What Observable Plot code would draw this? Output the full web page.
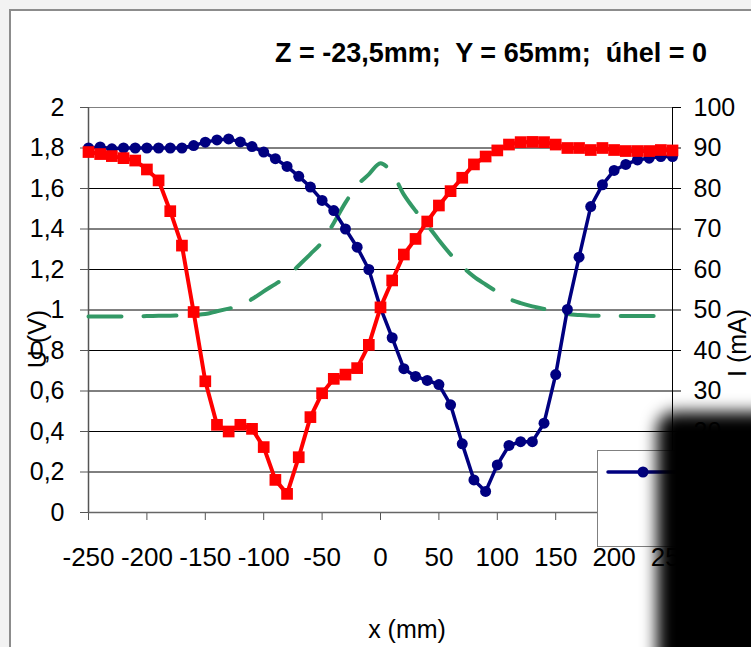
<!DOCTYPE html>
<html><head><meta charset="utf-8">
<script src="https://cdn.jsdelivr.net/npm/d3@7"></script>
<script src="https://cdn.jsdelivr.net/npm/@observablehq/plot@0.6"></script>
<style>
html,body{margin:0;padding:0;background:#f2f2f2;}
#wrap{position:relative;width:751px;height:647px;overflow:hidden;}
#blot{position:absolute;left:657px;top:412px;width:220px;height:320px;background:#000;filter:blur(8px);border-radius:18px;}
</style></head><body><div id="wrap"></div>
<script>
const titleText = "Z = -23,5mm;  Y = 65mm;  úhel = 0";
const xLabel = "x (mm)";
const yLeftLabel = "U (V)";
const yRightLabel = "I (mA)";
const xTicks = [-250, -200, -150, -100, -50, 0, 50, 100, 150, 200, 250];
const yTicks = [0, 0.2, 0.4, 0.6, 0.8, 1, 1.2, 1.4, 1.6, 1.8, 2];
const xValues = [-250,-240,-230,-220,-210,-200,-190,-180,-170,-160,-150,-140,-130,-120,-110,-100,-90,-80,-70,-60,-50,-40,-30,-20,-10,0,10,20,30,40,50,60,70,80,90,100,110,120,130,140,150,160,170,180,190,200,210,220,230,240,250];
// U1 (V) – blue circles
const u1Values = [1.80,1.805,1.796,1.80,1.80,1.80,1.80,1.80,1.80,1.812,1.829,1.84,1.845,1.83,1.807,1.78,1.747,1.709,1.66,1.607,1.541,1.491,1.40,1.31,1.20,1.01,0.863,0.71,0.672,0.652,0.632,0.532,0.339,0.161,0.104,0.235,0.331,0.35,0.35,0.441,0.681,1.003,1.261,1.511,1.618,1.689,1.719,1.741,1.75,1.758,1.758];
// U2 (V) – red squares
const u2Values = [1.78,1.77,1.76,1.75,1.738,1.694,1.64,1.488,1.318,0.99,0.648,0.433,0.40,0.433,0.413,0.323,0.161,0.092,0.273,0.471,0.589,0.66,0.681,0.713,0.828,1.013,1.146,1.274,1.351,1.437,1.516,1.587,1.653,1.719,1.758,1.788,1.817,1.829,1.83,1.829,1.817,1.80,1.80,1.79,1.80,1.79,1.785,1.785,1.785,1.79,1.788];
// I (mA) – green dashed, right axis
const iValues = [48.4,48.4,48.4,48.4,48.45,48.5,48.55,48.6,48.7,48.8,49.0,49.7,50.35,51.0,52.7,54.6,56.4,58.25,61.0,63.8,66.8,71.5,76.5,80.75,83.5,86.25,83.75,78.5,74.5,71.0,67.25,63.75,60.75,58.25,56.3,54.45,52.75,51.7,50.9,50.25,49.5,49.0,48.75,48.6,48.55,48.5,48.5,48.5,48.5,48.5,48.5];

const iMax = 100, uMax = 2; // right axis 0..100 maps onto left 0..2
const rows = xValues.map((x, i) => ({x, u1: u1Values[i], u2: u2Values[i], iu: iValues[i] * uMax / iMax}));
const comma = d => String(d).replace(".", ",");

const plot = Plot.plot({
  width: 751, height: 647,
  marginLeft: 88, marginRight: 79, marginTop: 107, marginBottom: 135,
  style: {fontFamily: "'Liberation Sans', Arial, sans-serif", fontSize: "25px", background: "transparent", color: "#000", overflow: "visible"},
  x: {domain: [-250, 250]},
  y: {domain: [0, 2]},
  marks: [
    Plot.ruleY(yTicks.filter(d => d > 0), {stroke: "#000", strokeWidth: 1}),
    Plot.ruleY([2], {stroke: "#808080", strokeWidth: 1}),
    Plot.ruleX([250], {stroke: "#000", strokeWidth: 1}),
    Plot.axisY({anchor: "left", ticks: yTicks, tickSize: 8, tickPadding: 16, tickFormat: comma, label: null, fontSize: 25, stroke: "#555"}),
    Plot.axisY({anchor: "right", ticks: yTicks, tickSize: 8, tickPadding: 13, tickFormat: d => String(Math.round(d * iMax / uMax)), label: null, fontSize: 25}),
    Plot.axisX({ticks: xTicks, tickSize: 8, tickPadding: 27, tickFormat: d => String(d), label: null, fontSize: 26, stroke: "#555"}),
    Plot.ruleX([-250], {stroke: "#555", strokeWidth: 1.5}),
    Plot.ruleY([0], {stroke: "#666", strokeWidth: 1.5}),
    Plot.line(rows, {x: "x", y: "iu", stroke: "#339966", strokeWidth: 4, strokeDasharray: "33,22", strokeLinecap: "round", curve: "catmull-rom"}),
    Plot.line(rows, {x: "x", y: "u1", stroke: "#000080", strokeWidth: 3.5}),
    Plot.dot(rows, {x: "x", y: "u1", r: 5.5, fill: "#000080", stroke: "none"}),
    Plot.line(rows, {x: "x", y: "u2", stroke: "#ff0000", strokeWidth: 4}),
    Plot.dot(rows, {x: "x", y: "u2", r: 6.6, symbol: "square", fill: "#ff0000", stroke: "none"})
  ]
});

const svg = d3.select(plot);
svg.style("background", "#f2f2f2");
svg.insert("rect", ":first-child")
  .attr("x", 10).attr("y", 10).attr("width", 800).attr("height", 700)
  .attr("fill", "#fff").attr("stroke", "#8c8c8c").attr("stroke-width", 2);
const font = "'Liberation Sans', Arial, sans-serif";
svg.append("text").text(titleText)
  .attr("x", 491).attr("y", 62).attr("text-anchor", "middle")
  .attr("font-family", font).attr("font-weight", "bold").attr("font-size", 27)
  .style("white-space", "pre").attr("fill", "#000");
svg.append("text").text(xLabel)
  .attr("x", 407).attr("y", 638).attr("text-anchor", "middle")
  .attr("font-family", font).attr("font-size", 25).attr("fill", "#000");
svg.append("text").text(yLeftLabel)
  .attr("transform", "translate(46,339) rotate(-90)").attr("text-anchor", "middle")
  .attr("font-family", font).attr("font-size", 25).attr("fill", "#000");
svg.append("text").text(yRightLabel)
  .attr("transform", "translate(746,343) rotate(-90)").attr("text-anchor", "middle")
  .attr("font-family", font).attr("font-size", 25).attr("fill", "#000");
const lg = svg.append("g");
lg.append("rect").attr("x", 597.5).attr("y", 450.5).attr("width", 200).attr("height", 96)
  .attr("fill", "#fff").attr("stroke", "#808080");
lg.append("line").attr("x1", 608).attr("x2", 720).attr("y1", 472).attr("y2", 472)
  .attr("stroke", "#000080").attr("stroke-width", 3.5).attr("stroke-linecap", "round");
lg.append("circle").attr("cx", 643).attr("cy", 472).attr("r", 5.5).attr("fill", "#000080");

const wrap = document.getElementById("wrap");
wrap.appendChild(plot);
const blot = document.createElement("div");
blot.id = "blot";
wrap.appendChild(blot);
</script></body></html>
